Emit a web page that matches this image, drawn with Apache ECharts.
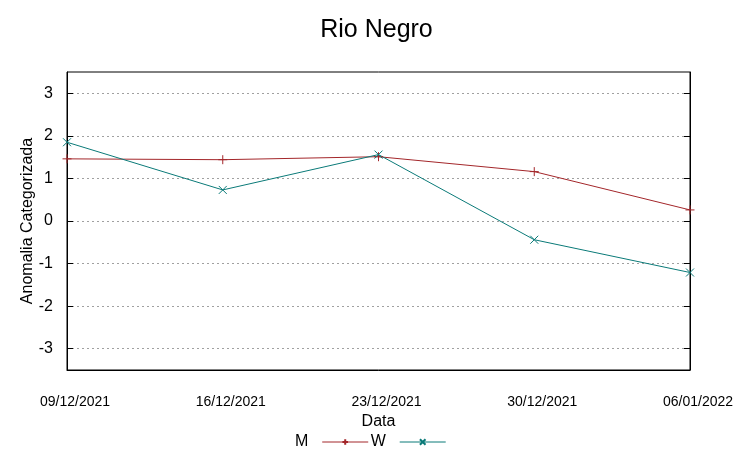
<!DOCTYPE html>
<html>
<head>
<meta charset="utf-8">
<script src="https://cdn.jsdelivr.net/npm/echarts@6/dist/echarts.min.js"></script>
<style>html,body{margin:0;padding:0;background:#fff;}#c{width:753px;height:459px;}</style>
</head>
<body>
<div id="c"></div>
<script>
var categories = ['09/12/2021', '16/12/2021', '23/12/2021', '30/12/2021', '06/01/2022'];
var seriesM = [1.46, 1.44, 1.51, 1.16, 0.26];
var seriesW = [1.85, 0.73, 1.56, -0.44, -1.21];
var yTicks = [-3, -2, -1, 0, 1, 2, 3];

var RED = '#a3262a';
var TEAL = '#0a7a78';
var FONT = '"Liberation Sans", Arial, sans-serif';
var plusPath = 'path://M0,5 L10,5 M5,0 L5,10';
var crossPath = 'path://M0,0 L10,10 M10,0 L0,10';

var chart = echarts.init(document.getElementById('c'));
var yAxisBase = {
  type: 'value', min: -3.5, max: 3.5,
  axisLine: { show: true, onZero: false, lineStyle: { color: '#000', width: 1 } },
  axisTick: { show: true, inside: true, length: 6, customValues: yTicks, lineStyle: { color: '#000' } }
};
chart.setOption({
  animation: false,
  title: {
    text: 'Rio Negro', left: 'center', top: 13,
    textStyle: { fontFamily: FONT, fontSize: 25, fontWeight: 'normal', color: '#000' }
  },
  grid: { left: 67, right: 63, top: 72, bottom: 89, show: true, borderColor: '#000', borderWidth: 1, containLabel: false },
  legend: {
    bottom: 4, left: 290, align: 'right', itemWidth: 46, itemHeight: 7, itemGap: 2,
    textStyle: { fontFamily: FONT, fontSize: 16, color: '#000' },
    formatter: function (n) { return n + '  '; },
    lineStyle: { width: 1 },
    data: ['M', 'W']
  },
  xAxis: {
    type: 'category', data: categories, boundaryGap: false,
    name: 'Data', nameLocation: 'middle', nameGap: 44,
    nameTextStyle: { fontFamily: FONT, fontSize: 16, color: '#000' },
    axisLine: { onZero: false, lineStyle: { color: '#000', width: 1 } },
    axisTick: { show: false },
    axisLabel: { margin: 25, padding: [0, 0, 0, 16], fontFamily: FONT, fontSize: 14, color: '#000', interval: 0 },
    splitLine: { show: false }
  },
  yAxis: [
    Object.assign({}, yAxisBase, {
      position: 'left',
      name: 'Anomalia Categorizada', nameLocation: 'middle', nameGap: 31, nameMoveOverlap: false,
      nameTextStyle: { fontFamily: FONT, fontSize: 16, color: '#000' },
      axisLabel: { customValues: yTicks, margin: 14, fontFamily: FONT, fontSize: 16, color: '#000' },
      splitLine: { show: true, lineStyle: { color: '#a0a0a0', width: 1, type: [2, 3] } }
    }),
    Object.assign({}, yAxisBase, {
      position: 'right',
      axisLabel: { show: false },
      splitLine: { show: false }
    })
  ],
  series: [
    {
      name: 'M', type: 'line', data: seriesM, yAxisIndex: 0,
      symbol: plusPath, symbolSize: 9, showSymbol: true,
      lineStyle: { color: RED, width: 1 },
      itemStyle: { color: RED, borderColor: RED, borderWidth: 1 }
    },
    {
      name: 'W', type: 'line', data: seriesW, yAxisIndex: 0,
      symbol: crossPath, symbolSize: 8, showSymbol: true,
      lineStyle: { color: TEAL, width: 1 },
      itemStyle: { color: TEAL, borderColor: TEAL, borderWidth: 1 }
    }
  ]
});
</script>
</body>
</html>
